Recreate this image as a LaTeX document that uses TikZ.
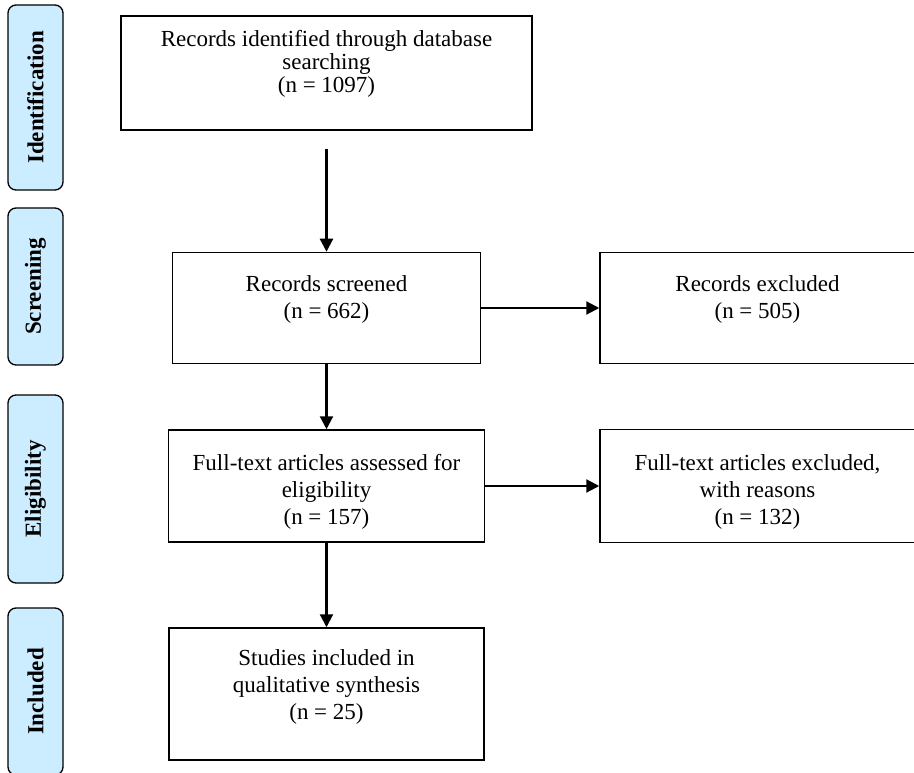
\documentclass[tikz,border=0pt]{standalone}
\usepackage{fontspec}
\setmainfont{Liberation Serif}
\usetikzlibrary{arrows.meta}

\definecolor{phaseblue}{RGB}{204,236,255}
\newcommand{\flowfont}{\fontsize{23}{27}\selectfont}

\tikzset{
    box/.style={draw, line width=1.5pt, inner sep=0pt, align=center, font=\flowfont},
    phase/.style={draw, line width=1.3pt, rounded corners=8pt, fill=phaseblue, rotate=90,
        minimum height=55pt, inner sep=0pt, font=\flowfont\bfseries},
    flow/.style={-{Triangle[length=13pt,width=13pt]}, line width=2.2pt},
}

\begin{document}
\begin{tikzpicture}[x=1pt, y=-1pt]

    \clip (0,0) rectangle (914,773);
    \useasboundingbox (0,0) rectangle (914,773);

    % Phases
    \node[phase, minimum width=185pt] (identification) at (35.5,97.5) {Identification};
    \node[phase, minimum width=157pt] (screening) at (35.5,286.5) {Screening};
    \node[phase, minimum width=188pt] (eligibility) at (35.5,489) {Eligibility};
    \node[phase, minimum width=167pt] (inclusion) at (35.5,691.5) {Included};

    % Boxes
    \node[box, minimum width=411pt, minimum height=114pt, font=\fontsize{23}{23}\selectfont]
        (identified) at (326.5,73)
        {Records identified through database\\searching\\(n = 1097)\\[0pt]\mbox{}};
    \node[box, minimum width=308pt, minimum height=111pt] (screened) at (326.5,308)
        {Records screened\\(n = 662)\\[-6pt]\mbox{}};
    \node[box, minimum width=315pt, minimum height=111pt] (excluded) at (757.5,308)
        {Records excluded\\(n = 505)\\[-6pt]\mbox{}};
    \node[box, minimum width=316pt, minimum height=112pt] (assessed) at (326.5,486)
        {\rule{0pt}{28pt}Full-text articles assessed for\\eligibility\\(n = 157)};
    \node[box, minimum width=315pt, minimum height=113pt] (ftexcluded) at (757.5,486)
        {\rule{0pt}{28pt}Full-text articles excluded,\\with reasons\\(n = 132)};
    \node[box, minimum width=315pt, minimum height=132pt] (included) at (326.5,694)
        {Studies included in\\qualitative synthesis\\(n = 25)\\[-8pt]\mbox{}};

    % Arrows
    \draw[flow, shorten <=18pt] (identified) -- (screened);
    \draw[flow] (screened) -- (assessed);
    \draw[flow] (assessed) -- (included);
    \draw[flow] (screened) -- (excluded);
    \draw[flow] (assessed) -- (ftexcluded);

\end{tikzpicture}
\end{document}
